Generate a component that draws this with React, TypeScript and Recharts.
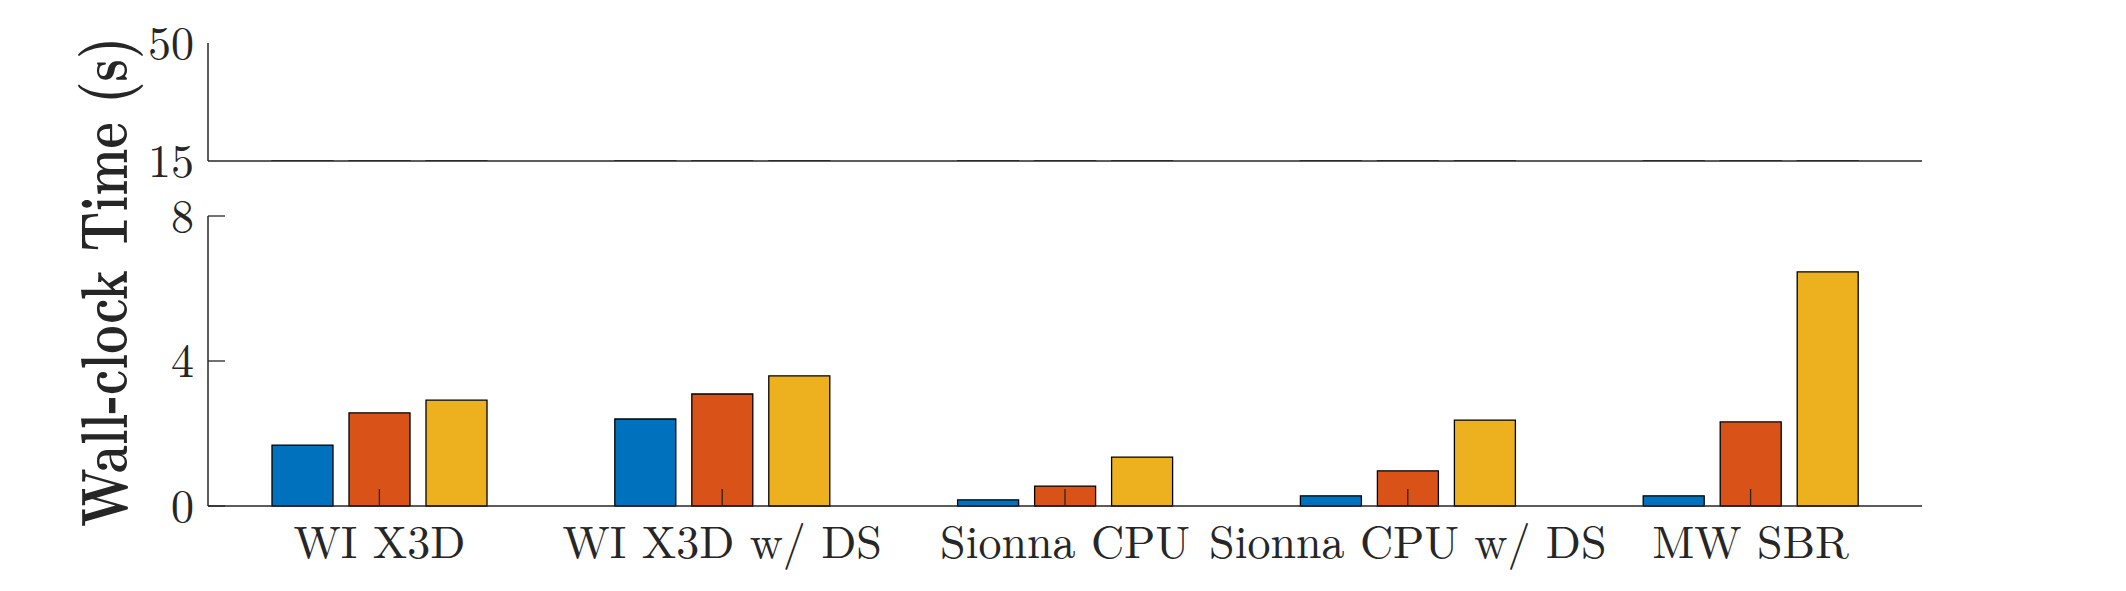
import React from "react"
import { BarChart, Bar, XAxis, YAxis } from "recharts"

const categories = ["WI X3D", "WI X3D w/ DS", "Sionna CPU", "Sionna CPU w/ DS", "MW SBR"]
const seriesA = [1.68, 2.4, 0.17, 0.28, 0.28]
const seriesB = [2.57, 3.09, 0.55, 0.97, 2.32]
const seriesC = [2.92, 3.59, 1.35, 2.37, 6.46]
const lowerTicks = [0, 4, 8]
const upperTicks = [15, 50]

const data = categories.map((name, i) => ({
    name,
    a: seriesA[i],
    b: seriesB[i],
    c: seriesC[i],
}))

const FONT = "'Latin Modern Roman', 'Liberation Serif', serif"
const INK = "#262626"
const colors = ["#0072BD", "#D95319", "#EDB120"]
const keys = ["a", "b", "c"]

const W = 2126
const H = 591
const PLOT_LEFT = 208
const PLOT_RIGHT = 1922

function YTick(props: any) {
    const { x, y, payload, inward } = props
    return (
        <g>
            {inward && <line x1={x} x2={x + 17} y1={y} y2={y} stroke={INK} strokeWidth={1.3} />}
            <text
                x={x - 14}
                y={y}
                dy={-4}
                textAnchor="end"
                dominantBaseline="central"
                fontFamily={FONT}
                fontSize={46}
                fill={INK}
            >
                {payload.value}
            </text>
        </g>
    )
}

function XTick(props: any) {
    const { x, y, payload } = props
    return (
        <g>
            <line x1={x} x2={x} y1={y} y2={y - 17} stroke={INK} strokeWidth={1.3} />
            <text x={x} y={y + 52} textAnchor="middle" fontFamily={FONT} fontSize={46} fill={INK}>
                {payload.value}
            </text>
        </g>
    )
}

export default function App() {
    const layer: React.CSSProperties = { position: "absolute", left: 0, top: 0 }

    return (
        <div style={{ position: "absolute", left: 0, top: 0, width: W, height: H, background: "#fff" }}>
            {/* upper part of the broken axis: 15 to 50 */}
            <div style={layer}>
                <BarChart
                    width={W}
                    height={H}
                    data={data}
                    margin={{ top: 43, right: W - PLOT_RIGHT, left: 0, bottom: 429 }}
                    barSize={61}
                    barGap={16}
                >
                    <XAxis
                        dataKey="name"
                        height={1}
                        tick={false}
                        tickLine={false}
                        axisLine={{ stroke: INK, strokeWidth: 1.5 }}
                    />
                    <YAxis
                        width={PLOT_LEFT}
                        type="number"
                        domain={[15, 50]}
                        allowDataOverflow
                        ticks={upperTicks}
                        interval={0}
                        tickLine={false}
                        tickSize={0}
                        tickMargin={0}
                        axisLine={{ stroke: INK, strokeWidth: 1.5 }}
                        tick={<YTick inward={false} />}
                    />
                    {keys.map((k, i) => (
                        <Bar key={k} dataKey={k} fill={colors[i]} stroke="#000" strokeWidth={1.3} isAnimationActive={false} />
                    ))}
                </BarChart>
            </div>

            {/* lower part: 0 to 8 */}
            <div style={layer}>
                <BarChart
                    width={W}
                    height={H}
                    data={data}
                    margin={{ top: 216, right: W - PLOT_RIGHT, left: 0, bottom: 0 }}
                    barSize={61}
                    barGap={16}
                >
                    <XAxis
                        dataKey="name"
                        height={85}
                        interval={0}
                        tickLine={false}
                        tickSize={0}
                        tickMargin={0}
                        axisLine={{ stroke: INK, strokeWidth: 1.5 }}
                        tick={<XTick />}
                    />
                    <YAxis
                        width={PLOT_LEFT}
                        domain={[0, 8]}
                        ticks={lowerTicks}
                        interval={0}
                        tickLine={false}
                        tickSize={0}
                        tickMargin={0}
                        axisLine={{ stroke: INK, strokeWidth: 1.5 }}
                        tick={<YTick inward={true} />}
                    />
                    {keys.map((k, i) => (
                        <Bar key={k} dataKey={k} fill={colors[i]} stroke="#000" strokeWidth={1.3} isAnimationActive={false} />
                    ))}
                </BarChart>
            </div>

            <svg width={W} height={H} style={{ ...layer, pointerEvents: "none" }}>
                <text
                    x={127}
                    y={282}
                    transform="rotate(-90 127 282)"
                    textAnchor="middle"
                    fontFamily={FONT}
                    fontSize={66}
                    fontWeight="bold"
                    fill={INK}
                    textLength={490}
                    lengthAdjust="spacingAndGlyphs"
                >
                    Wall-clock Time (s)
                </text>
            </svg>
        </div>
    )
}
